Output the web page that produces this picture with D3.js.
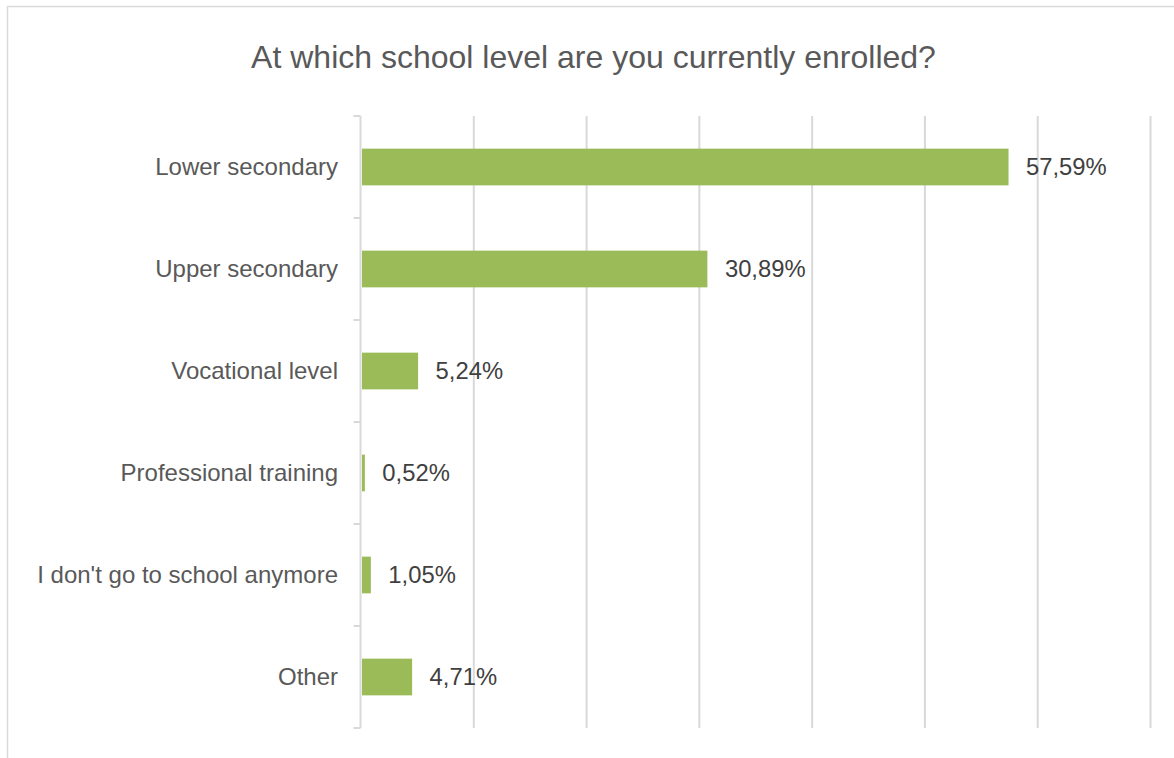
<!DOCTYPE html>
<html>
<head>
<meta charset="utf-8">
<script src="https://cdn.jsdelivr.net/npm/d3@7"></script>
<style>
  html, body { margin: 0; padding: 0; background: #fff; }
  svg { display: block; }
  text { font-family: "Liberation Sans", Arial, sans-serif; }
</style>
</head>
<body>
<svg id="chart" width="1174" height="758"></svg>
<script>
// Survey answers: school level currently enrolled
const categories = [
  "Lower secondary",
  "Upper secondary",
  "Vocational level",
  "Professional training",
  "I don't go to school anymore",
  "Other"
];
const shares = [57.59, 30.89, 5.24, 0.52, 1.05, 4.71];
const gridTicks = [0, 10, 20, 30, 40, 50, 60, 70];
const titleText = "At which school level are you currently enrolled?";

const svg = d3.select("#chart");
const W = 1174, H = 758;

const plot = { left: 360.5, right: 1150, top: 116, bottom: 728 };

const x = d3.scaleLinear().domain([0, 70]).range([plot.left, plot.right]);
const y = d3.scaleBand().domain(categories).range([plot.top, plot.bottom])
  .paddingInner(0.64).paddingOuter(0.32);

const fmt = v => v.toFixed(2).replace(".", ",") + "%";

// chart frame (runs past the right and bottom edges)
svg.append("rect")
  .attr("x", 7.5).attr("y", 6.5)
  .attr("width", W + 20).attr("height", H + 20)
  .attr("fill", "#fff")
  .attr("stroke", "#d9d9d9").attr("stroke-width", 1.5);

// title
svg.append("text")
  .attr("x", 593.5).attr("y", 67.5)
  .attr("text-anchor", "middle")
  .attr("font-size", 32)
  .attr("fill", "#595959")
  .text(titleText);

// vertical gridlines
const xAxis = d3.axisBottom(x).tickValues(gridTicks.slice(1))
  .tickSize(-(plot.bottom - plot.top)).tickFormat("");
const gx = svg.append("g")
  .attr("transform", `translate(0,${plot.bottom})`)
  .call(xAxis);
gx.select(".domain").remove();
gx.selectAll(".tick line").attr("stroke", "#d9d9d9").attr("stroke-width", 2);

// category axis with tick marks at band boundaries
const bounds = d3.range(categories.length + 1)
  .map(i => plot.top + i * (plot.bottom - plot.top) / categories.length);
svg.append("line")
  .attr("x1", plot.left).attr("x2", plot.left)
  .attr("y1", plot.top).attr("y2", plot.bottom)
  .attr("stroke", "#d9d9d9").attr("stroke-width", 2);
svg.selectAll(".ytick").data(bounds).join("line")
  .attr("class", "ytick")
  .attr("x1", plot.left - 7).attr("x2", plot.left)
  .attr("y1", d => d).attr("y2", d => d)
  .attr("stroke", "#d9d9d9").attr("stroke-width", 2);

// category labels
svg.selectAll(".cat").data(categories).join("text")
  .attr("class", "cat")
  .attr("x", 338)
  .attr("y", d => y(d) + y.bandwidth() / 2)
  .attr("dy", "0.35em")
  .attr("text-anchor", "end")
  .attr("font-size", 24)
  .attr("fill", "#595959")
  .text(d => d);

// bars
svg.selectAll(".bar").data(shares).join("rect")
  .attr("class", "bar")
  .attr("x", x(0) + 1.5)
  .attr("y", (d, i) => y(categories[i]))
  .attr("width", d => Math.max(1.5, x(d) - x(0) - 3))
  .attr("height", y.bandwidth())
  .attr("fill", "#9bbb59");

// value labels
svg.selectAll(".val").data(shares).join("text")
  .attr("class", "val")
  .attr("x", d => x(d) + 16)
  .attr("y", (d, i) => y(categories[i]) + y.bandwidth() / 2)
  .attr("dy", "0.35em")
  .attr("font-size", 23.8)
  .attr("fill", "#404040")
  .text(fmt);
</script>
</body>
</html>
